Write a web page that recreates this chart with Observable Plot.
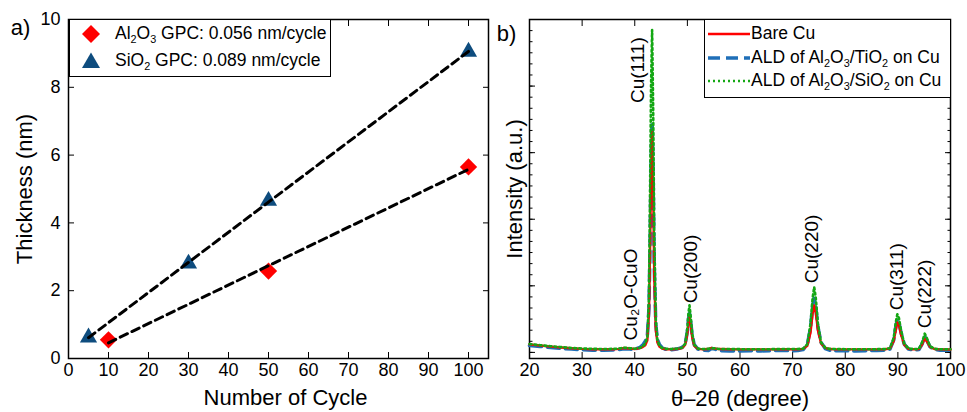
<!DOCTYPE html>
<html><head><meta charset="utf-8">
<script src="https://cdn.jsdelivr.net/npm/d3@7"></script>
<script src="https://cdn.jsdelivr.net/npm/@observablehq/plot@0.6"></script>
<style>
body{margin:0;background:#fff;font-family:"Liberation Sans",Arial,sans-serif;}
#wrap{position:relative;width:967px;height:412px;overflow:hidden;}
#pa{position:absolute;left:0;top:0;}
#pb{position:absolute;left:495px;top:0;}
.leg{position:absolute;border:1px solid #000;background:#fff;box-sizing:border-box;font-size:17.5px;color:#000}
.row{position:absolute;white-space:nowrap;height:24px;display:flex;align-items:center;line-height:1}
.row svg{position:absolute;top:0}
sub{font-size:0.62em;vertical-align:-0.35em;line-height:0}
</style></head><body>
<div id="wrap">
  <div id="pa"></div>
  <div id="pb"></div>
  <div class="leg" id="lega" style="left:69px;top:19px;width:262px;height:58px"></div>
  <div class="leg" id="legb" style="left:704px;top:19px;width:247px;height:79px"></div>
</div>
<script>
// ---- Panel a data ----
const alCycles = [10, 50, 100];
const alThick  = [0.55, 2.58, 5.65];
const siCycles = [5, 30, 50, 100];
const siThick  = [0.62, 2.8, 4.65, 9.05];
const xTicksA = [0, 10, 20, 30, 40, 50, 60, 70, 80, 90, 100];
const yTicksA = [0, 2, 4, 6, 8, 10];
const legendA = ["Al<sub>2</sub>O<sub>3</sub> GPC: 0.056 nm/cycle", "SiO<sub>2</sub> GPC: 0.089 nm/cycle"];

// ---- Panel b data (2θ in degrees, intensity in counts) ----
const deg = [20,22,24,26,28,30,32,34,36,37,38,39,40,41,41.5,42,42.4,42.7,42.9,43.1,43.3,43.5,43.7,44,44.3,44.7,45.2,46,47,48,49,49.6,50,50.2,50.4,50.6,50.9,51.3,52,53,54,54.6,55.2,56,58,60,62,64,66,68,70,71,72,72.8,73.4,73.8,74.1,74.4,74.8,75.4,76.2,77,78,80,82,84,86,87.5,88.5,89.2,89.6,89.9,90.2,90.6,91.2,92,93,94,94.6,95.1,95.5,96.1,97,98,100];
const bareCu = [720,620,520,440,380,320,290,280,290,320,400,350,300,380,480,650,1100,3500,9000,16000,19855,15000,7000,2000,900,500,350,280,280,300,380,700,1700,2700,3185,2600,1400,600,320,280,300,400,350,300,280,270,270,270,270,280,280,290,320,600,1800,3500,4240,3600,2000,800,400,300,280,270,270,270,270,280,350,1000,2000,2710,2500,1600,700,320,280,300,700,1240,1000,500,300,270,260];
const aldTiO2 = [620,540,440,360,300,240,200,200,220,250,330,300,280,450,650,1000,1500,4000,9500,17000,20760,16000,8000,2500,1200,700,420,250,240,300,450,800,1900,3000,3500,2900,1600,700,300,200,180,350,300,150,130,120,150,130,160,180,150,170,250,700,2200,4200,4870,4100,2300,900,350,200,150,140,130,150,170,200,300,1100,2300,2980,2700,1800,750,300,200,250,750,1440,1100,500,250,200,180];
const aldSiO2 = [760,650,560,480,400,350,320,300,320,350,420,380,330,420,520,800,1400,5000,14000,24000,29060,22000,11000,3000,1100,600,400,320,310,330,420,800,2200,3500,4240,3400,1800,700,350,300,320,380,360,310,300,290,290,290,290,300,300,310,340,750,2600,4900,5890,4900,2600,900,420,320,300,290,290,290,290,300,380,1300,2700,3430,3100,2000,800,350,300,320,900,1690,1300,550,320,290,280];
const seriesNames = ["Bare Cu", "ALD of Al<sub>2</sub>O<sub>3</sub>/TiO<sub>2</sub> on Cu", "ALD of Al<sub>2</sub>O<sub>3</sub>/SiO<sub>2</sub> on Cu"];
const peakNames = ["Cu₂O-CuO", "Cu(111)", "Cu(200)", "Cu(220)", "Cu(311)", "Cu(222)"];
const peakPos   = [39.2, 40.6, 50.6, 73.7, 89.9, 95.1];
const peakLabY  = [1080, 22470, 4420, 6230, 3790, 2170];
const xTicksB = [20, 30, 40, 50, 60, 70, 80, 90, 100];
const yMajorB = [0, 6000, 12000, 18000, 24000, 30000];
const yMinorB = d3.range(0, 30001, 1000);

const FONT = "Liberation Sans, Arial, sans-serif";
const RED = "#ff0000", NAVY = "#0e4c7e", BLUE = "#1f6fb8", GREEN = "#14a814";

const alData = alCycles.map((c, i) => ({cycle: c, t: alThick[i]}));
const siData = siCycles.map((c, i) => ({cycle: c, t: siThick[i]}));
const xrd = deg.map((d, i) => ({deg: d, bare: bareCu[i], tio2: aldTiO2[i], sio2: aldSiO2[i]}));
const peaks = peakNames.map((n, i) => ({name: n, x: peakPos[i], y: peakLabY[i]}));
const noText = () => "";
const centered = {textAnchor: "middle", lineAnchor: "middle"};

const pa = Plot.plot({
  width: 495, height: 412, marginTop: 19, marginBottom: 54, marginLeft: 68, marginRight: 7,
  style: {fontFamily: FONT, fontSize: "18px", color: "#000", background: "#fff"},
  x: {domain: [0, 105]},
  y: {domain: [0, 10]},
  marks: [
    Plot.axisX(xTicksA, {anchor: "bottom", tickSize: -6, tickPadding: 11, label: null, fontSize: 18}),
    Plot.axisX(xTicksA, {anchor: "top", tickSize: -6, tickFormat: noText, label: null}),
    Plot.axisY(yTicksA, {anchor: "left", tickSize: -6, tickPadding: 14, label: null, fontSize: 18}),
    Plot.axisY(yTicksA, {anchor: "right", tickSize: -6, tickFormat: noText, label: null}),
    Plot.frame({stroke: "#000", strokeWidth: 1.5}),
    Plot.dot(alData, {x: "cycle", y: "t", symbol: "diamond2", r: 7.8, fill: RED}),
    Plot.dot(siData, {x: "cycle", y: "t", symbol: "triangle2", r: 8.2, fill: NAVY}),
    Plot.linearRegressionY(alData, {x: "cycle", y: "t", stroke: "#000", strokeWidth: 3, strokeDasharray: "8,5", ci: 0}),
    Plot.linearRegressionY(siData, {x: "cycle", y: "t", stroke: "#000", strokeWidth: 3, strokeDasharray: "8,5", ci: 0}),
    Plot.text(["Number of Cycle"], {text: d => d, frameAnchor: "bottom", dx: 7, dy: 39, fontSize: 22, ...centered}),
    Plot.text(["Thickness (nm)"], {text: d => d, frameAnchor: "left", dx: -44, rotate: -90, fontSize: 22, ...centered}),
    Plot.text(["a)"], {text: d => d, frameAnchor: "top-left", dx: -48, dy: 8, fontSize: 22, ...centered})
  ]
});
document.getElementById("pa").append(pa);

const pb = Plot.plot({
  width: 472, height: 412, marginTop: 19, marginBottom: 54, marginLeft: 34, marginRight: 17,
  style: {fontFamily: FONT, fontSize: "18px", color: "#000", background: "#fff"},
  x: {domain: [20, 100]},
  y: {domain: [-550, 30000]},
  marks: [
    Plot.axisX(xTicksB, {anchor: "bottom", tickSize: -6, tickPadding: 11, label: null, fontSize: 18}),
    Plot.axisX(xTicksB, {anchor: "top", tickSize: -6, tickFormat: noText, label: null}),
    Plot.axisY(yMajorB, {anchor: "left", tickSize: -6, tickFormat: noText, label: null}),
    Plot.axisY(yMinorB, {anchor: "left", tickSize: -3.5, tickFormat: noText, label: null}),
    Plot.axisY(yMajorB, {anchor: "right", tickSize: -6, tickFormat: noText, label: null}),
    Plot.axisY(yMinorB, {anchor: "right", tickSize: -3.5, tickFormat: noText, label: null}),
    Plot.frame({stroke: "#000", strokeWidth: 1.5}),
    Plot.line(xrd, {x: "deg", y: "tio2", stroke: BLUE, strokeWidth: 3.5, strokeDasharray: "12,6"}),
    Plot.line(xrd, {x: "deg", y: "bare", stroke: RED, strokeWidth: 2.4}),
    Plot.line(xrd, {x: "deg", y: "sio2", stroke: GREEN, strokeWidth: 2.6, strokeDasharray: "2,3"}),
    Plot.text(peaks, {x: "x", y: "y", text: "name", rotate: -90, textAnchor: "start", lineAnchor: "middle", fontSize: 19}),
    Plot.text(["θ–2θ (degree)"], {text: d => d, frameAnchor: "bottom", dy: 40, fontSize: 22, ...centered}),
    Plot.text(["Intensity (a.u.)"], {text: d => d, frameAnchor: "left", dx: -15, rotate: -90, fontSize: 22, ...centered}),
    Plot.text(["b)"], {text: d => d, frameAnchor: "top-left", dx: -23, dy: 14, fontSize: 22, ...centered})
  ]
});
document.getElementById("pb").append(pb);

// ---- legends ----
const la = document.getElementById("lega");
const symA = [
  '<svg width="22" height="24"><path d="M11,3 L20,12 L11,21 L2,12Z" fill="' + RED + '"/></svg>',
  '<svg width="22" height="24"><path d="M11,3.5 L20,19 L2,19Z" fill="' + NAVY + '"/></svg>'
];
legendA.forEach((t, i) => {
  const r = document.createElement("div");
  r.className = "row";
  r.style.left = "0px"; r.style.top = (2 + i * 27) + "px";
  r.innerHTML = symA[i].replace("<svg", '<svg style="left:10px"') + '<span style="position:absolute;left:45px">' + t + '</span>';
  la.append(r);
});
const lb = document.getElementById("legb");
const styB = [
  {c: RED, w: 2.4, d: "none"},
  {c: BLUE, w: 3.5, d: "12,6"},
  {c: GREEN, w: 2.6, d: "2,3"}
];
seriesNames.forEach((t, i) => {
  const r = document.createElement("div");
  r.className = "row";
  r.style.left = "0px"; r.style.top = (2 + i * 23.5) + "px";
  const s = styB[i];
  r.innerHTML = '<svg width="44" height="24" style="left:2px"><line x1="1" x2="43" y1="12" y2="12" stroke="' + s.c + '" stroke-width="' + s.w + '" stroke-dasharray="' + s.d + '"/></svg>' +
    '<span style="position:absolute;left:46px">' + t + '</span>';
  lb.append(r);
});
</script>
</body></html>
